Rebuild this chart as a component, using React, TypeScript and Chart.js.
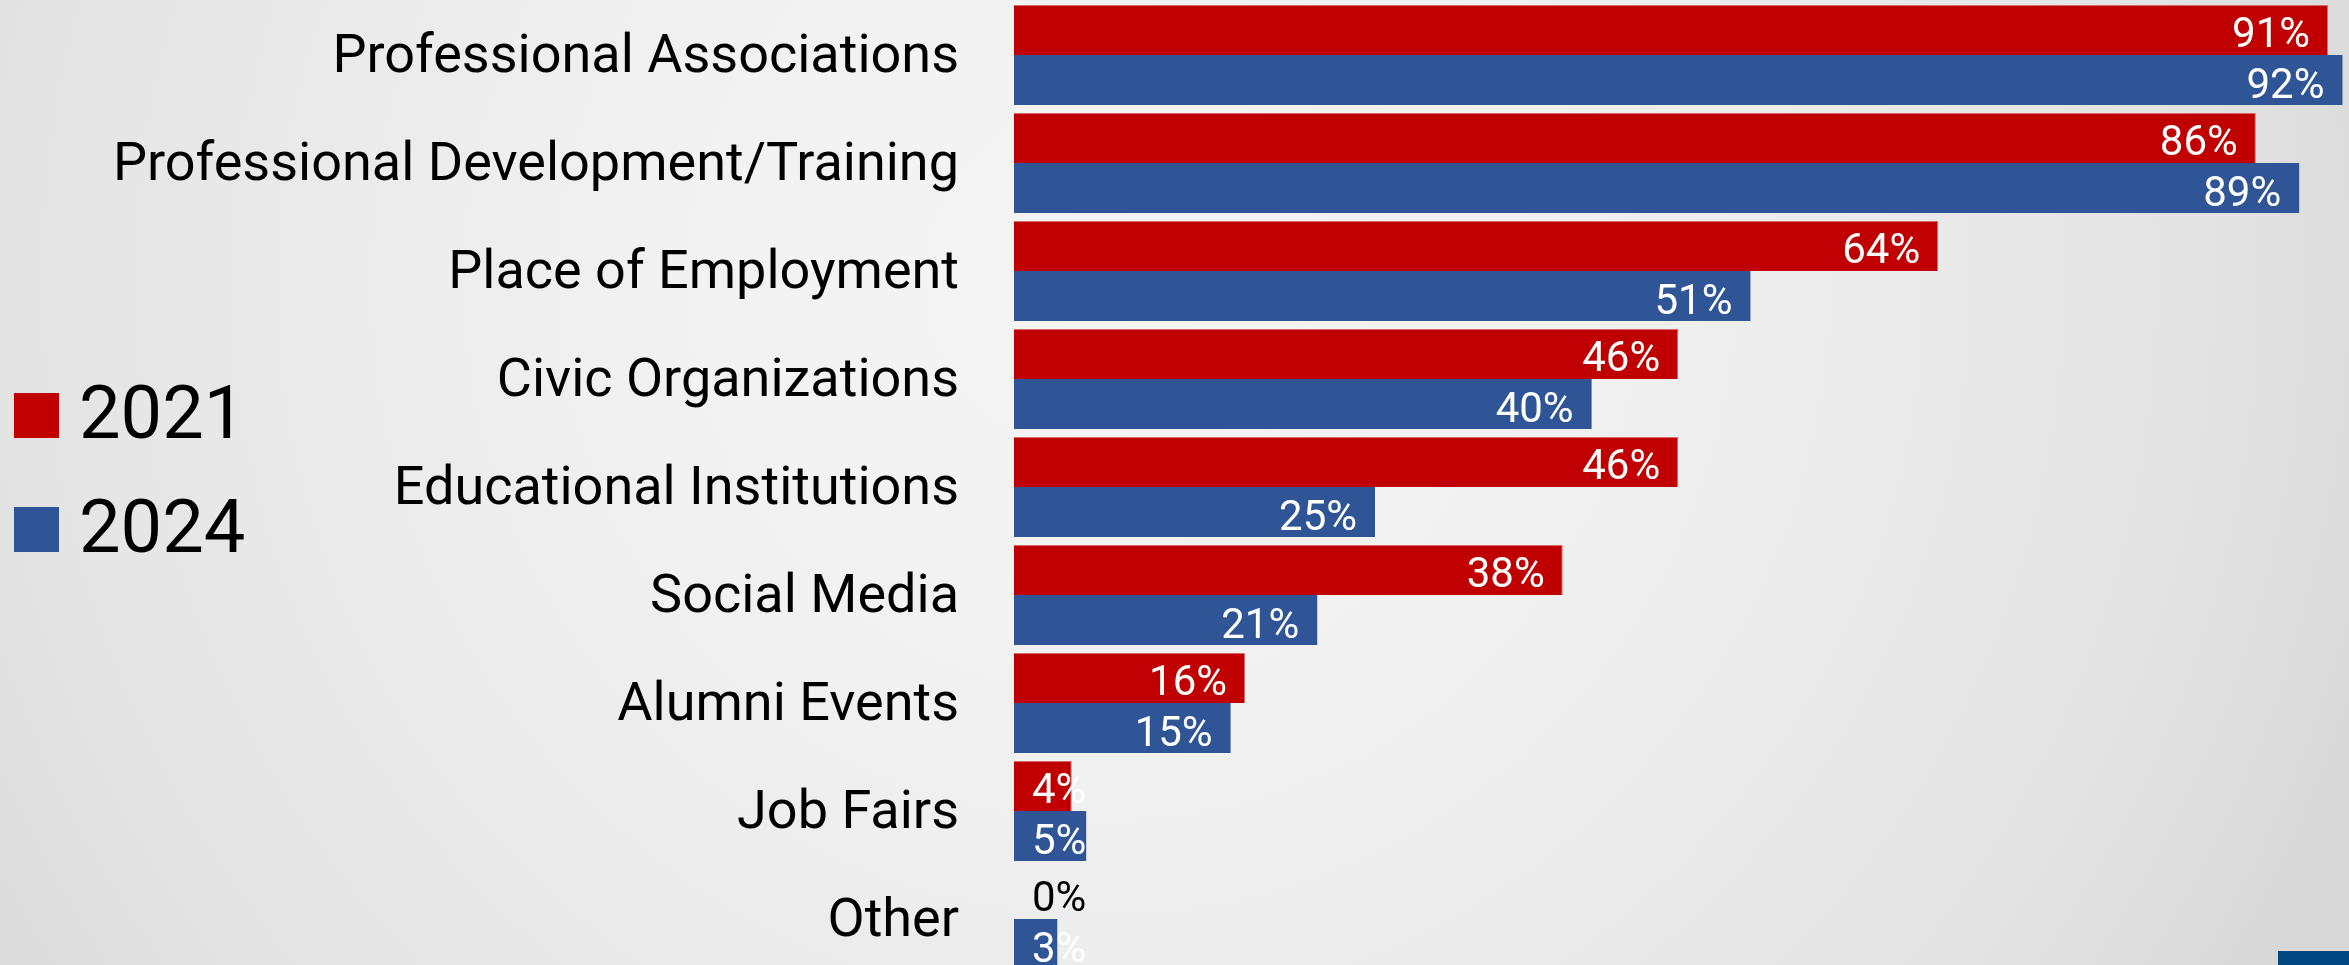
import React, { useEffect, useRef } from "react";
import { Chart, registerables } from "chart.js";

Chart.register(...registerables);

const categories = [
  "Professional Associations",
  "Professional Development/Training",
  "Place of Employment",
  "Civic Organizations",
  "Educational Institutions",
  "Social Media",
  "Alumni Events",
  "Job Fairs",
  "Other",
];
const values2021 = [91, 86, 64, 46, 46, 38, 16, 4, 0];
const values2024 = [92, 89, 51, 40, 25, 21, 15, 5, 3];
const seriesNames = ["2021", "2024"];
const RED = "#C00000";
const BLUE = "#2F5597";

const valueLabelPlugin = {
  id: "valueLabels",
  afterDatasetsDraw(chart: any) {
    const ctx = chart.ctx;
    const base = chart.scales.x.getPixelForValue(0);
    ctx.save();
    ctx.font = "42px Roboto";
    ctx.textAlign = "right";
    ctx.textBaseline = "alphabetic";
    chart.data.datasets.forEach((ds: any, di: number) => {
      const meta = chart.getDatasetMeta(di);
      meta.data.forEach((bar: any, i: number) => {
        const v = ds.data[i];
        const text = v + "%";
        const w = ctx.measureText(text).width;
        const right = Math.max(bar.x - 18, base + 18 + w);
        ctx.fillStyle = v === 0 ? "#000000" : "#FFFFFF";
        ctx.fillText(text, right, bar.y + 17.5);
      });
    });
    ctx.restore();
  },
};

const legendPlugin = {
  id: "sideLegend",
  afterDraw(chart: any) {
    const ctx = chart.ctx;
    const items = [
      { label: seriesNames[0], color: RED, top: 393 },
      { label: seriesNames[1], color: BLUE, top: 507 },
    ];
    ctx.save();
    ctx.font = "74px Roboto";
    ctx.textAlign = "left";
    ctx.textBaseline = "alphabetic";
    items.forEach((it) => {
      ctx.fillStyle = it.color;
      ctx.fillRect(14, it.top, 45, 45);
      ctx.fillStyle = "#000000";
      ctx.fillText(it.label, 79, it.top + 45);
    });
    ctx.restore();
  },
};

export default function App() {
  const canvasRef = useRef<HTMLCanvasElement | null>(null);

  useEffect(() => {
    let chart: Chart | null = null;
    let cancelled = false;
    const build = () => {
      if (cancelled || !canvasRef.current) return;
      chart = new Chart(canvasRef.current, {
        type: "bar",
        data: {
          labels: categories,
          datasets: [
            {
              label: seriesNames[0],
              data: values2021,
              backgroundColor: RED,
              borderColor: "#D86A6A",
              borderWidth: { top: 1, right: 1, bottom: 0, left: 0 } as any,
              borderSkipped: false,
              categoryPercentage: 0.926,
              barPercentage: 1.0,
            },
            {
              label: seriesNames[1],
              data: values2024,
              backgroundColor: BLUE,
              borderWidth: 0,
              categoryPercentage: 0.926,
              barPercentage: 1.0,
            },
          ],
        },
        options: {
          indexAxis: "y",
          responsive: false,
          animation: false,
          devicePixelRatio: 1,
          layout: { padding: { top: 1, bottom: 2, left: 0, right: 0 } },
          plugins: {
            legend: { display: false },
            tooltip: { enabled: false },
          },
          scales: {
            x: {
              display: false,
              min: 0,
              max: 100,
            },
            y: {
              grid: { display: false, drawTicks: false },
              border: { display: false },
              ticks: {
                autoSkip: false,
                padding: 55,
                labelOffset: 3,
                color: "#000000",
                font: { family: "Roboto", size: 54 },
              },
              afterFit(scale: any) {
                scale.width = 1014;
                scale.paddingTop = 0;
                scale.paddingBottom = 0;
              },
            },
          },
        },
        plugins: [valueLabelPlugin, legendPlugin],
      });
    };
    const fontsReady = (document as any).fonts
      ? Promise.all([
          (document as any).fonts.load("54px Roboto"),
          (document as any).fonts.load("74px Roboto"),
        ]).catch(() => null)
      : Promise.resolve(null);
    fontsReady.then(build);
    return () => {
      cancelled = true;
      if (chart) chart.destroy();
    };
  }, []);

  return (
    <div
      style={{
        position: "fixed",
        left: 0,
        top: 0,
        width: "100vw",
        height: "100vh",
        overflow: "hidden",
        background:
          "radial-gradient(circle 1350px at 1100px 280px, #f5f5f5 0%, #f1f1f1 35%, #e4e4e4 80%, #d8d8d8 100%)",
      }}
    >
      <canvas
        ref={canvasRef}
        width={2458}
        height={975}
        style={{ position: "absolute", left: 0, top: 0, width: 2458, height: 975 }}
      />
      <div
        style={{
          position: "absolute",
          left: 2278,
          top: 951,
          width: 71,
          height: 14,
          background: "#00467F",
        }}
      />
    </div>
  );
}
